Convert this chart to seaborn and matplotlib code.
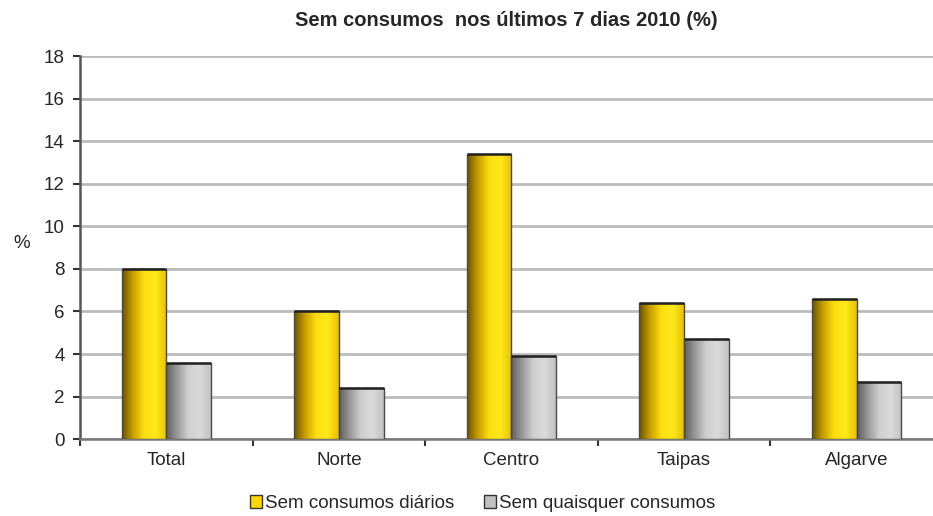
import numpy as np
import pandas as pd
import matplotlib
matplotlib.use('Agg')
import matplotlib.pyplot as plt
from matplotlib.colors import LinearSegmentedColormap
from matplotlib.patches import Patch
from matplotlib.ticker import FixedLocator
import seaborn as sns

# Data
regions = ['Total', 'Norte', 'Centro', 'Taipas', 'Algarve']
sem_diarios = [8.0, 6.0, 13.4, 6.4, 6.6]
sem_quaisquer = [3.6, 2.4, 3.9, 4.7, 2.7]
series = ['Sem consumos diários', 'Sem quaisquer consumos']

df = pd.DataFrame({
    'regiao': regions * 2,
    'valor': sem_diarios + sem_quaisquer,
    'serie': [series[0]] * len(regions) + [series[1]] * len(regions),
})

sns.set_style('white')
plt.rcParams['font.family'] = ['Liberation Sans', 'DejaVu Sans']

fig = plt.figure(figsize=(9.33, 5.16), dpi=100)
ax = fig.add_axes([0.0857, 0.149, 0.925, 0.742])

palette = {series[0]: '#ffd700', series[1]: '#c0c0c0'}
sns.barplot(data=df, x='regiao', y='valor', hue='serie', palette=palette,
            width=0.518, gap=0, ax=ax, legend=False, zorder=3)

# cylinder-like shading on each bar
cmaps = {
    series[0]: LinearSegmentedColormap.from_list(
        'gold', ['#6b5200', '#c9a000', '#ffdf10', '#ffe81a', '#e8c000']),
    series[1]: LinearSegmentedColormap.from_list(
        'silver', ['#5e5e5e', '#9a9a9a', '#d0d0d0', '#dadada', '#c2c2c2']),
}
grad = np.linspace(0, 1, 256).reshape(1, -1)
n = len(regions)
for i, bar in enumerate(ax.patches[:2 * n]):
    s = series[i // n]
    x0, w, h = bar.get_x(), bar.get_width(), bar.get_height()
    im = ax.imshow(grad, cmap=cmaps[s], aspect='auto', extent=(x0, x0 + w, 0, h),
                   zorder=3, interpolation='bilinear')
    im.set_clip_path(bar)
    bar.set_facecolor('none')
    bar.set_edgecolor('#4a4a4a')
    bar.set_linewidth(1.0)
    bar.set_zorder(4)
    # darker top edge
    ax.plot([x0, x0 + w], [h, h], color='#222222', lw=1.8, zorder=5,
            solid_capstyle='butt')

ax.set_xlim(-0.5, n - 0.5)
ax.set_ylim(0, 18)
ax.set_yticks(np.arange(0, 19, 2))
ax.yaxis.grid(True, color='#bcbcbc', lw=2.0, zorder=0)
ax.set_axisbelow(True)

for side in ['top', 'right']:
    ax.spines[side].set_visible(False)
ax.spines['left'].set_color('#555555')
ax.spines['left'].set_linewidth(1.8)
ax.spines['bottom'].set_color('#777777')
ax.spines['bottom'].set_linewidth(1.8)

ax.tick_params(axis='y', left=True, length=5, width=1.5, color='#333333',
               labelsize=13.5, pad=6)
ax.tick_params(axis='x', which='major', length=0, labelsize=13.5, pad=9)
ax.xaxis.set_minor_locator(FixedLocator(np.arange(-0.5, n, 1.0)))
ax.tick_params(axis='x', which='minor', bottom=True, length=5, width=1.5,
               color='#333333')

ax.set_xlabel('')
ax.set_ylabel('')
fig.text(22 / 933, 1 - 243 / 516, '%', ha='center', va='center', fontsize=13.5)

fig.text(0.543, 0.961, 'Sem consumos  nos últimos 7 dias 2010 (%)',
         ha='center', va='center', fontsize=14.5, fontweight='bold')

handles = [Patch(facecolor='#ffd700', edgecolor='#333333', lw=1),
           Patch(facecolor='#c0c0c0', edgecolor='#333333', lw=1)]
fig.legend(handles=handles, labels=series, loc='center', ncol=2,
           bbox_to_anchor=(0.517, 0.024), frameon=False, fontsize=13.5,
           handlelength=0.65, handleheight=0.65, handletextpad=0.15,
           columnspacing=1.6)

fig.savefig('out.png', dpi=100)
